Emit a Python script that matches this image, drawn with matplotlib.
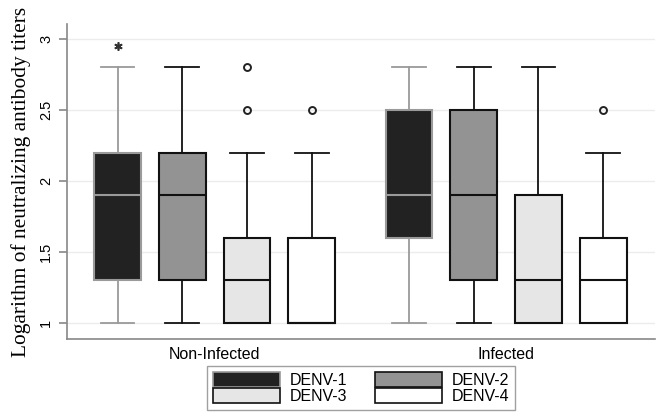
import matplotlib
matplotlib.use("Agg")
import matplotlib.pyplot as plt
from matplotlib.patches import Patch

groups = ["Non-Infected", "Infected"]
serotypes = ["DENV-1", "DENV-2", "DENV-3", "DENV-4"]
# per group, per serotype: whislo, q1, med, q3, whishi
whislo = [[1.0, 1.0, 1.0, 1.0], [1.0, 1.0, 1.0, 1.0]]
q1 = [[1.3, 1.3, 1.0, 1.0], [1.6, 1.3, 1.0, 1.0]]
med = [[1.9, 1.9, 1.3, 1.0], [1.9, 1.9, 1.3, 1.3]]
q3 = [[2.2, 2.2, 1.6, 1.6], [2.5, 2.5, 1.9, 1.6]]
whishi = [[2.8, 2.8, 2.2, 2.2], [2.8, 2.8, 2.8, 2.2]]
outliers = [[[2.95], [], [2.5, 2.8], [2.5]], [[], [], [], [2.5]]]

face_colors = ["#222222", "#939393", "#e6e6e6", "#ffffff"]
edge_colors = ["#9a9a9a", "#111111", "#111111", "#111111"]

fig = plt.figure(figsize=(6.6, 4.13), dpi=100)
ax = fig.add_axes([67/660, 1 - 339/413, (655-67)/660, (339-24)/413])

group_starts = [0.0, 4.5]
for g in range(2):
    for s in range(4):
        pos = group_starts[g] + s
        st = dict(whislo=whislo[g][s], q1=q1[g][s], med=med[g][s], q3=q3[g][s],
                  whishi=whishi[g][s], fliers=outliers[g][s])
        ec = edge_colors[s]
        if s == 0:
            fp = dict(marker=(6, 2, 0), markeredgecolor="#333333", markersize=6,
                      markeredgewidth=1.2)
        else:
            fp = dict(marker="o", markerfacecolor="none", markeredgecolor="#222222",
                      markersize=5, markeredgewidth=1.4)
        ax.bxp([st], positions=[pos], widths=0.72, capwidths=[0.52],
               patch_artist=True, showfliers=True,
               boxprops=dict(facecolor=face_colors[s], edgecolor=ec, linewidth=1.5),
               medianprops=dict(color=ec, linewidth=1.5),
               whiskerprops=dict(color=ec, linewidth=1.3),
               capprops=dict(color=ec, linewidth=1.3),
               flierprops=fp)

ax.set_xlim(-0.78, 8.3)
ax.set_ylim(0.887, 3.106)
ax.set_yticks([1, 1.5, 2, 2.5, 3])
ax.set_yticklabels(["1", "1.5", "2", "2.5", "3"], rotation=90, va="center",
                   fontsize=10.5, family="Liberation Sans")
ax.yaxis.grid(True, color="#ececec", linewidth=1.0)
ax.set_axisbelow(True)
ax.set_xticks([1.5, 6.0])
ax.set_xticklabels(groups, fontsize=11.5, family="Liberation Sans")
ax.tick_params(axis="x", length=0, pad=6)
ax.tick_params(axis="y", length=6, color="#888888", width=1.2, pad=4)
for side in ["top", "right"]:
    ax.spines[side].set_visible(False)
for side in ["left", "bottom"]:
    ax.spines[side].set_color("#888888")
    ax.spines[side].set_linewidth(1.2)

ax.set_ylabel("Logarithm of neutralizing antibody titers", family="Liberation Serif",
              fontsize=15.4, labelpad=6)

handles = [Patch(facecolor=face_colors[i], edgecolor=edge_colors[i], linewidth=1.2,
                 label=serotypes[i]) for i in range(4)]
order = [0, 2, 1, 3]
leg = fig.legend([handles[i] for i in order], [serotypes[i] for i in order],
                 ncol=2, loc="upper left", bbox_to_anchor=(207/660, 1 - 366/413),
                 frameon=True, fancybox=False, edgecolor="#888888",
                 prop=dict(family="Liberation Sans", size=11.5),
                 handlelength=4.2, handleheight=1.05, columnspacing=1.7,
                 labelspacing=0.0, borderpad=0.4, handletextpad=0.6,
                 borderaxespad=0)
leg.get_frame().set_linewidth(1.0)

fig.savefig("out.png", dpi=100)
